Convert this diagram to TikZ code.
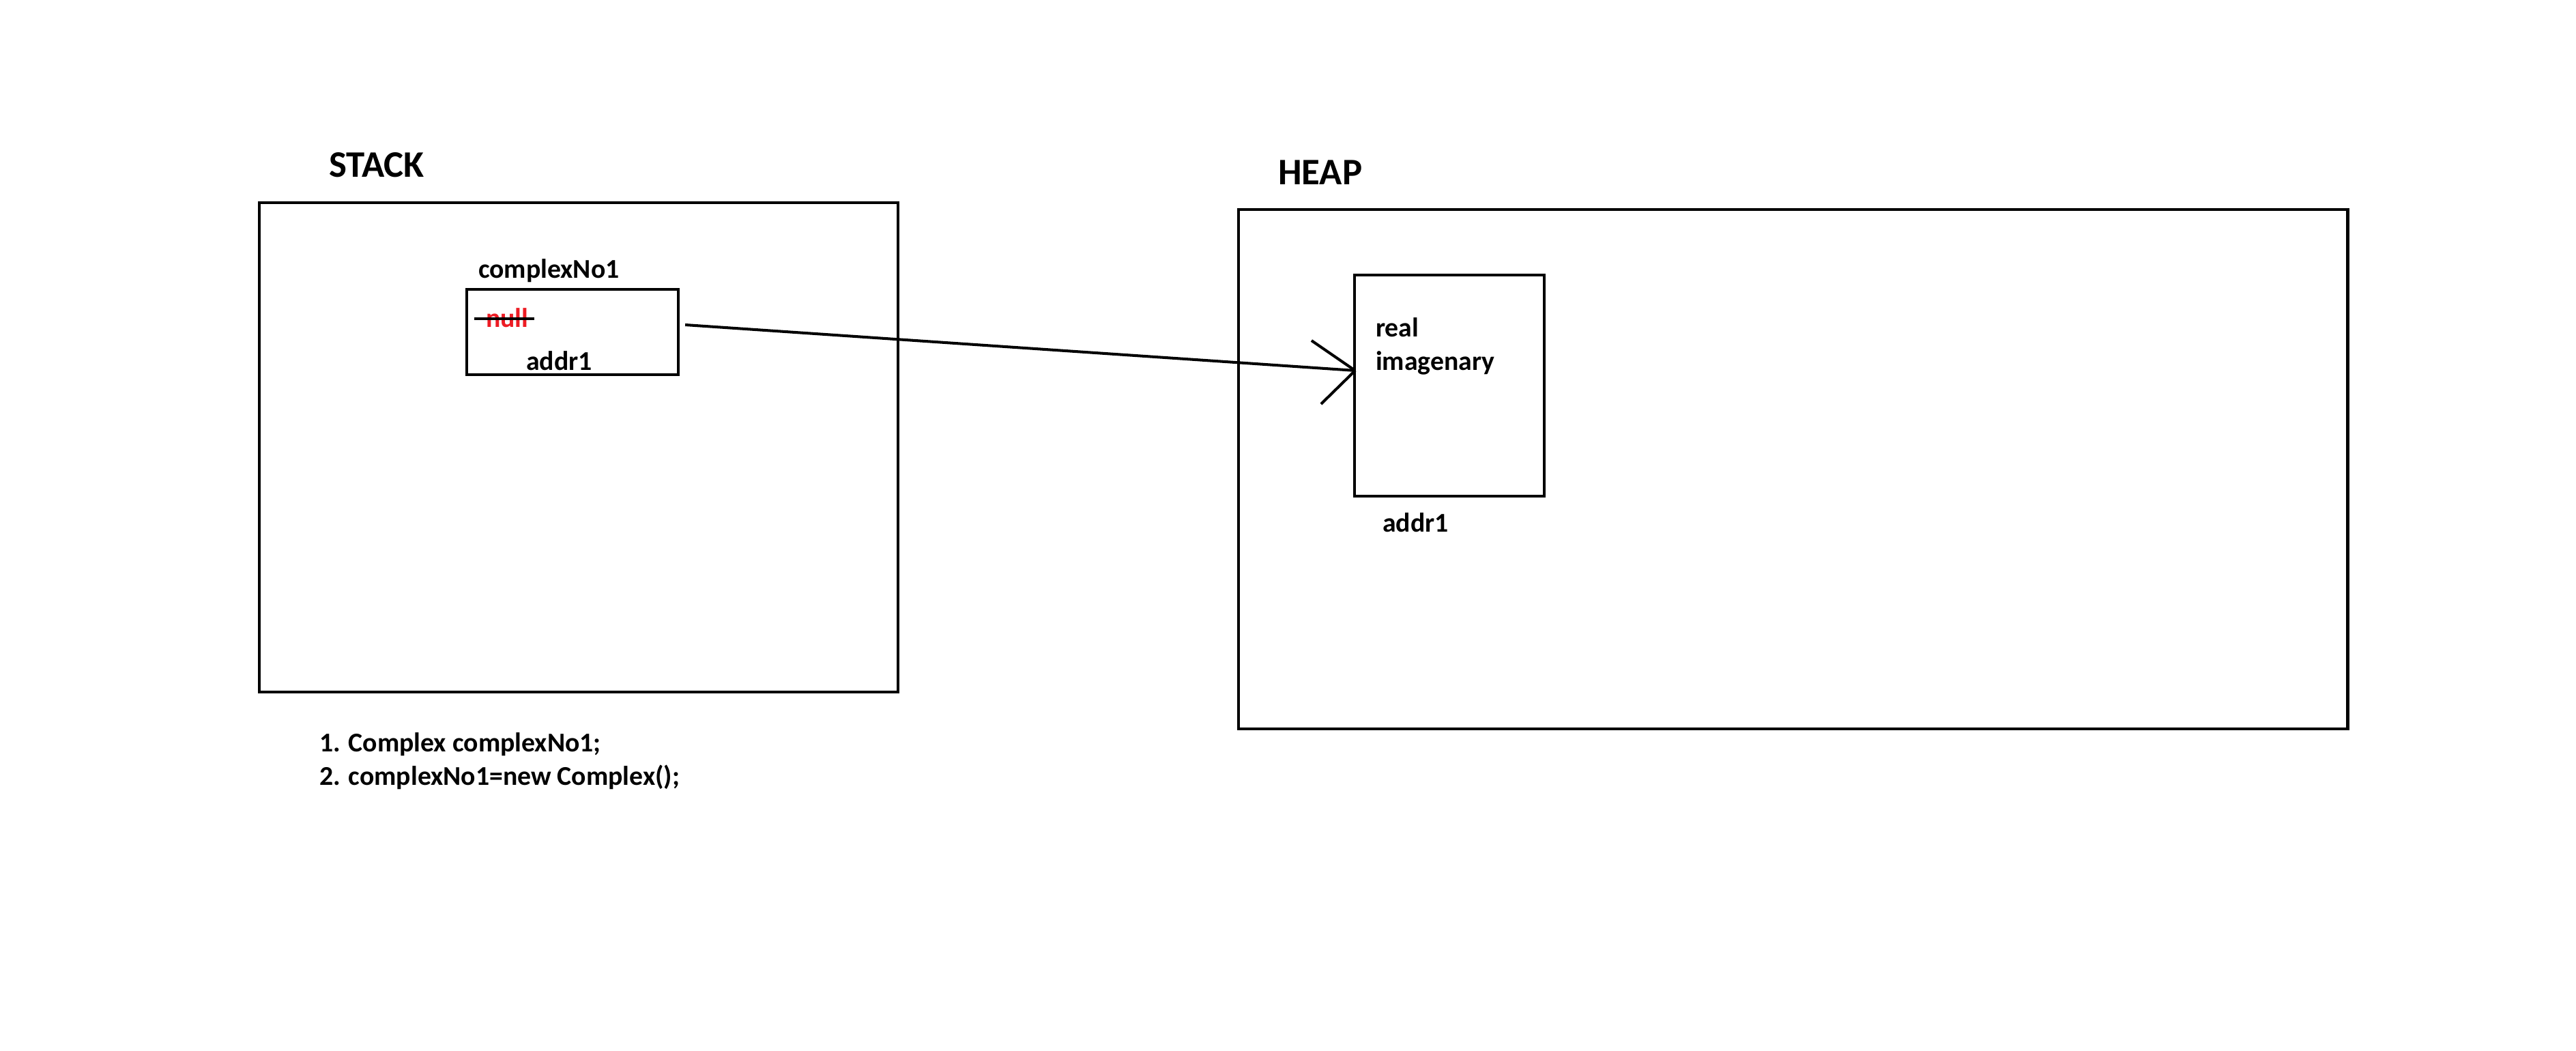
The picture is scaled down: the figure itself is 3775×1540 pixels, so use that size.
\documentclass[tikz,border=0pt]{standalone}
\usepackage{fontspec}
\setmainfont{Carlito}
\usetikzlibrary{calc}
\definecolor{paintred}{RGB}{237,28,36}

\begin{document}
\begin{tikzpicture}[x=0.01cm,y=-0.01cm,line width=1.15pt,
  membox/.style={draw,rectangle,inner sep=0},
  txt/.style={anchor=base west,inner sep=0,font=\fontsize{11.3}{13.5}\selectfont\bfseries},
  head/.style={anchor=base west,inner sep=0,font=\fontsize{15.6}{18}\selectfont\bfseries}]
  \useasboundingbox[fill=white] (0,0) rectangle (3775,1540);

  % stack side
  \node[head] (stacktitle) at (480,260) {STACK};
  \node[membox,minimum width=9.36cm,minimum height=7.17cm] (stack) at (848,655.5) {};
  \node[txt] (varname) at (699,408) {complexNo1};
  \node[membox,minimum width=3.1cm,minimum height=1.25cm] (slot) at (839,486.5) {};
  \node[txt,paintred] (nulltxt) at (710,480) {null};
  \draw[line width=1.3pt] (695,467) -- (783,467);
  \node[txt] (slotaddr) at (769,543) {addr1};

  \node[txt] (line1) at (466,1101) {1. Complex complexNo1;};
  \node[txt] (line2) at (466,1150) {2. complexNo1=new Complex();};

  % heap side
  \node[head] (heaptitle) at (1871,271) {HEAP};
  \node[membox,minimum width=16.25cm,minimum height=7.61cm] (heap) at (2627.5,687.5) {};
  \node[membox,minimum width=2.78cm,minimum height=3.24cm] (object) at (2124,565) {};
  \node[txt] (realtxt) at (2014,494) {real};
  \node[txt] (imagtxt) at (2014,543) {imagenary};
  \node[txt] (objaddr) at (2024,780) {addr1};

  % reference
  \coordinate (from) at ([shift={(8,-10.5)}]slot.east);
  \coordinate (tip) at ([shift={(3,-22)}]object.west);
  \draw (from) -- (tip);
  \draw (tip) -- ++(-64,-44);
  \draw (tip) -- ++(-50,49);
\end{tikzpicture}
\end{document}
